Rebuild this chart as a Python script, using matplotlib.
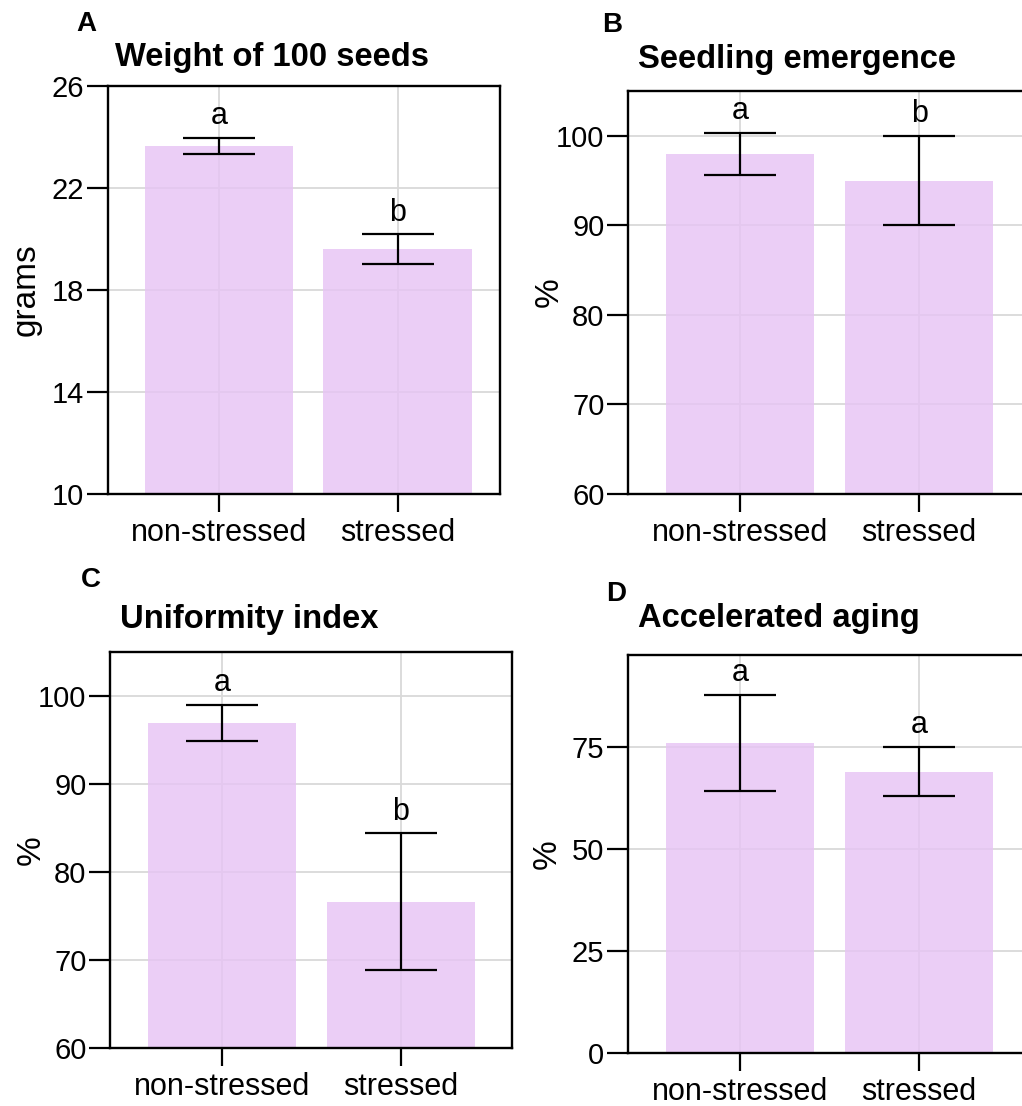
import matplotlib
matplotlib.use("Agg")
import matplotlib.pyplot as plt

plt.rcParams['font.family'] = ['Liberation Sans', 'DejaVu Sans']

# ---- data ----
categories = ["non-stressed", "stressed"]

weight_mean = [23.65, 19.60]
weight_err = [0.30, 0.58]
weight_groups = ["a", "b"]

emergence_mean = [97.95, 95.0]
emergence_err = [2.35, 5.0]
emergence_groups = ["a", "b"]

uniformity_mean = [96.9, 76.6]
uniformity_err = [2.07, 7.78]
uniformity_groups = ["a", "b"]

aging_mean = [75.9, 68.9]
aging_err = [11.75, 6.0]
aging_groups = ["a", "a"]

W, H = 1022, 1106
DPI = 100
fig = plt.figure(figsize=(W / DPI, H / DPI), dpi=DPI)

BAR_COLOR = (0.905, 0.77, 0.955, 0.82)
GRID_COLOR = "#d9d9d9"
YTICK_FS = 21
XTICK_FS = 22
LETTER_FS = 22
YLABEL_FS = 24


def px_rect(left, top, right, bottom):
    return [left / W, 1 - bottom / H, (right - left) / W, (bottom - top) / H]


def panel(rect, means, errs, groups, ylim, yticks, ylabel, xlim, label_x):
    ax = fig.add_axes(rect)
    x = [1, 2]
    ax.set_axisbelow(True)
    ax.grid(True, color=GRID_COLOR, linewidth=1.3)
    ax.bar(x, means, width=0.83, color=BAR_COLOR, zorder=2)
    ax.errorbar(x, means, yerr=errs, fmt="none", ecolor="black",
                elinewidth=1.6, capsize=26, capthick=1.6, zorder=3)
    for xi, m, e, g in zip(x, means, errs, groups):
        ax.annotate(g, (xi, m + e), xytext=(0, 10), textcoords="offset points",
                    ha="center", va="baseline", fontsize=LETTER_FS, zorder=4)
    ax.set_xlim(*xlim)
    ax.set_ylim(*ylim)
    ax.set_xticks(x)
    ax.set_xticklabels(categories)
    ax.set_yticks(yticks)
    ax.tick_params(axis="y", length=15, width=1.6, pad=2, labelsize=YTICK_FS)
    ax.tick_params(axis="x", length=13, width=1.6, pad=4, labelsize=XTICK_FS)
    for s in ax.spines.values():
        s.set_linewidth(1.7)
    ax.set_ylabel(ylabel, fontsize=YLABEL_FS)
    ax.yaxis.set_label_coords(label_x, 0.5)
    return ax


panel(px_rect(108, 86, 500, 494), weight_mean, weight_err, weight_groups,
      (10, 26), [10, 14, 18, 22, 26], "grams", (0.378, 2.574), -0.17)
panel(px_rect(628, 91, 1025, 494), emergence_mean, emergence_err, emergence_groups,
      (60, 105), [60, 70, 80, 90, 100], "%", (0.374, 2.592), -0.16)
panel(px_rect(110, 652, 512, 1048), uniformity_mean, uniformity_err, uniformity_groups,
      (60, 105), [60, 70, 80, 90, 100], "%", (0.374, 2.62), -0.157)
panel(px_rect(628, 655, 1025, 1053), aging_mean, aging_err, aging_groups,
      (0, 97.5), [0, 25, 50, 75], "%", (0.374, 2.592), -0.164)


# panel letters and titles
def fig_text(xp, yp, s, size):
    fig.text(xp / W, 1 - yp / H, s, fontsize=size, fontweight="bold",
             ha="left", va="baseline")


fig_text(76, 31, "A", 20)
fig_text(602, 32, "B", 20)
fig_text(81, 587, "C", 20)
fig_text(606, 601, "D", 20)

fig_text(115, 66, "Weight of 100 seeds", 23.6)
fig_text(638, 68, "Seedling emergence", 23.6)
fig_text(120, 628, "Uniformity index", 23.6)
fig_text(638, 627, "Accelerated aging", 23.6)

fig.savefig("out.png", dpi=DPI)
